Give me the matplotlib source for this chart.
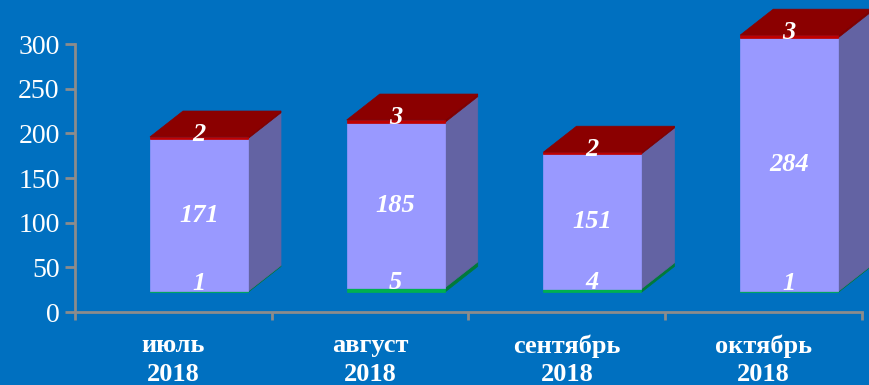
import matplotlib.pyplot as plt
from matplotlib.patches import Polygon

months = ["июль\n2018", "август\n2018", "сентябрь\n2018", "октябрь\n2018"]
green_vals = [1, 5, 4, 1]
blue_vals = [171, 185, 151, 284]
red_vals = [2, 3, 2, 3]
y_ticks = [0, 50, 100, 150, 200, 250, 300]

BG = "#0070C0"
AXIS = "#8C8C8C"
FRONT = ["#00B050", "#9999FF", "#C00000"]
SIDE = ["#007A3A", "#6363A3", "#800000"]
TOP = "#8B0000"
SERIF = "Liberation Serif"

# fake 3d: front face floor and depth offset (data units)
FLOOR = 22
DX, DY = 0.168, 29
LEFT, WIDTH = 0.381, 0.498

fig = plt.figure(figsize=(8.7, 3.85), dpi=100, facecolor=BG)
ax = fig.add_axes([0.0862, 0.1896, 0.9046, 0.6961])
ax.set_facecolor(BG)
ax.set_xlim(0, 4)
ax.set_ylim(0, 300)


def face(pts, color):
    ax.add_patch(Polygon(pts, closed=True, facecolor=color, edgecolor=color,
                         linewidth=0.5, clip_on=False, zorder=3))


for i, (g, b, r) in enumerate(zip(green_vals, blue_vals, red_vals)):
    x0 = i + LEFT
    x1 = x0 + WIDTH
    base = FLOOR
    for k, v in enumerate([g, b, r]):
        top = base + v
        # side face
        face([(x1, base), (x1 + DX, base + DY), (x1 + DX, top + DY), (x1, top)], SIDE[k])
        # front face
        face([(x0, base), (x1, base), (x1, top), (x0, top)], FRONT[k])
        base = top
    # top face of the stack
    face([(x0, base), (x1, base), (x1 + DX, base + DY), (x0 + DX, base + DY)], TOP)

    xc = (x0 + x1) / 2
    lab = dict(color="white", fontsize=19, fontweight="bold", fontstyle="italic",
               family=SERIF, ha="center", va="center", zorder=5)
    ax.text(xc, FLOOR + g / 2 + 9, str(g), **lab)
    ax.text(xc, FLOOR + g + b / 2, str(b), **lab)
    ax.text(xc, base + 3, str(r), **lab)

for s in ["top", "right"]:
    ax.spines[s].set_visible(False)
for s in ["left", "bottom"]:
    ax.spines[s].set_color(AXIS)
    ax.spines[s].set_linewidth(2)

ax.set_yticks(y_ticks)
ax.set_yticklabels([str(t) for t in y_ticks], color="white", fontsize=20, family=SERIF)
ax.tick_params(axis="y", length=7, width=2, color=AXIS, pad=4)

ax.set_xticks(range(5))
ax.set_xticklabels([])
ax.tick_params(axis="x", which="major", length=6, width=2, color=AXIS)
ax.set_xticks([i + 0.5 for i in range(4)], minor=True)
ax.set_xticklabels(months, minor=True, color="white", fontsize=19,
                   fontweight="bold", family=SERIF, linespacing=1.3)
ax.tick_params(axis="x", which="minor", length=0, pad=16)

fig.savefig("out.png", dpi=100, facecolor=BG)
